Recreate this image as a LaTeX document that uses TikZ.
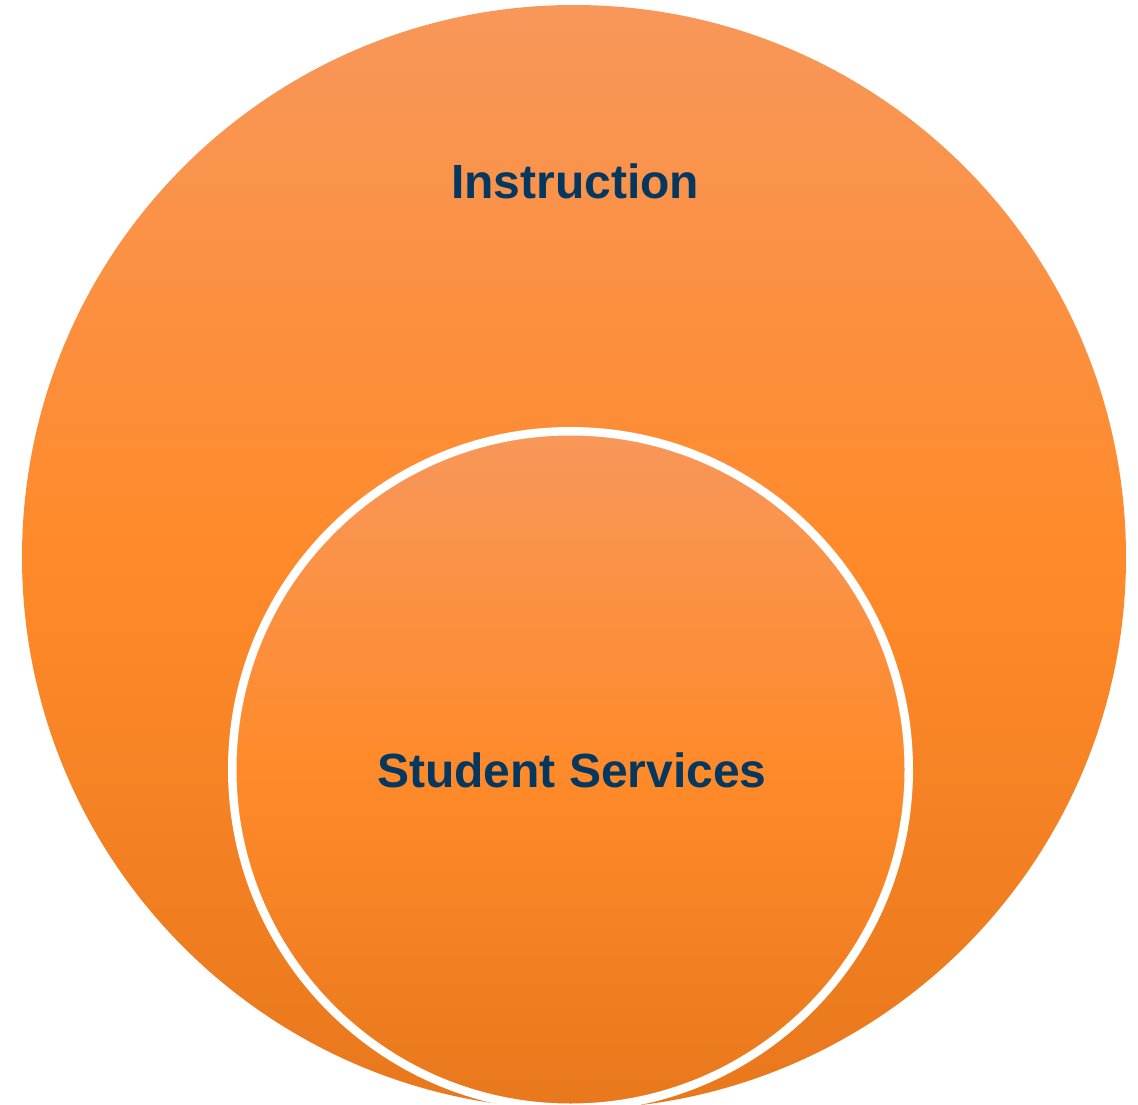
\documentclass[tikz,border=0pt]{standalone}
\usepackage{fontspec}
\setmainfont{Liberation Sans}
\definecolor{otop}{HTML}{F8975A}
\definecolor{omid}{HTML}{FF8A2A}
\definecolor{obot}{HTML}{E8781C}
\definecolor{navy}{HTML}{06375F}
\tikzset{
  orangeball/.style={circle, inner sep=0pt, top color=otop, bottom color=obot, middle color=omid},
  label text/.style={font=\fontsize{48}{50}\selectfont\bfseries, text=navy, inner sep=0pt}
}
\begin{document}
\begin{tikzpicture}[x=1pt,y=-1pt]
\useasboundingbox (0,0) rectangle (1138,1105);
\clip (0,0) rectangle (1138,1105);
\node[orangeball, minimum size=1104pt] (outer) at (574,557) {};
\node[orangeball, draw=white, line width=8.5pt, minimum size=676.5pt] (inner) at (570.5,769.5) {};
\node[label text] (instr) at (575,181) {Instruction};
\node[label text] (stud) at (572,770) {Student Services};
\end{tikzpicture}
\end{document}
